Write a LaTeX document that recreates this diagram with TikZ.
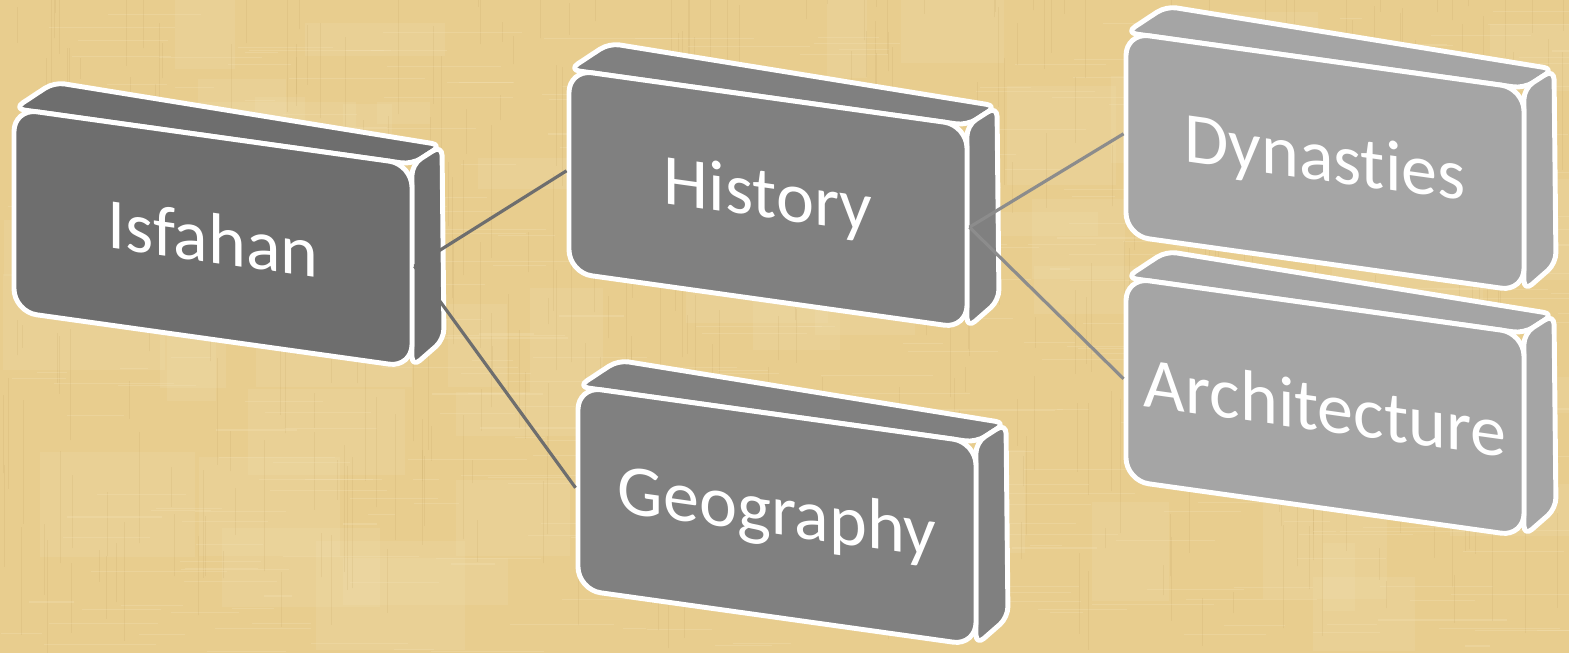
\documentclass[tikz,border=0pt]{standalone}
\usepackage{fontspec}
\setmainfont{Carlito}[Ligatures=NoCommon]
\usepackage{tikz}

\definecolor{paper}{RGB}{232,205,142}
\definecolor{paperlight}{RGB}{243,226,182}
\definecolor{paperdark}{RGB}{196,165,100}
\definecolor{boxdark}{RGB}{110,110,110}
\definecolor{boxmid}{RGB}{128,128,128}
\definecolor{boxlight}{RGB}{165,165,165}
\definecolor{linegray}{RGB}{140,140,140}

\begin{document}
\begin{tikzpicture}
  [brick/.style={rectangle,rounded corners=6.5pt,draw=white,line width=1.4pt,
     minimum width=3.98cm,minimum height=2.03cm,text=white,transform shape,
     font=\fontsize{20.5}{24}\selectfont},
   face/.style={draw=white,line width=1.4pt,rounded corners=3pt,line join=round},
   link/.style={line width=0.9pt}]
  \useasboundingbox (0,0) rectangle (15.69,6.53);
  \fill[paper] (0,0) rectangle (15.69,6.53);

  % papyrus texture
  \begin{scope}
    \clip (0,0) rectangle (15.69,6.53);
    \pgfmathsetseed{4}
    \foreach \i in {1,...,60}{
      \pgfmathsetmacro\xa{rnd*15.4}
      \pgfmathsetmacro\ya{rnd*6.3}
      \fill[paperlight,opacity=0.18] (\xa,\ya) rectangle ++(0.3+rnd*1.4,0.2+rnd*0.9);
    }
    \foreach \i in {1,...,400}{
      \pgfmathsetmacro\xa{rnd*15.69}
      \pgfmathsetmacro\ya{rnd*6.53}
      \draw[paperdark,opacity=0.18,line width=0.25pt] (\xa,\ya) -- ++(0,0.2+rnd*1.2);
      \draw[paperlight,opacity=0.3,line width=0.3pt] (\ya*2.4,\xa*0.41) -- ++(0.2+rnd*1.2,0);
    }
  \end{scope}

  % boxes
  \foreach \n/\x/\y/\col/\txt in {isf/2.13/4.15/boxdark/Isfahan,
      his/7.68/4.54/boxmid/History, geo/7.77/1.37/boxmid/Geography,
      dyn/13.25/4.91/boxlight/Dynasties, arc/13.25/2.46/boxlight/Architecture}{
    \begin{scope}[shift={(\x,\y)},yslant=-0.14]
      \filldraw[face,fill=\col] (-1.99,1.015) -- (1.99,1.015) -- (2.29,1.25) -- (-1.59,1.335) -- cycle;
      \filldraw[face,fill=\col] (1.99,1.015) -- (2.29,1.25) -- (2.31,-0.69) -- (1.99,-1.015) -- cycle;
      \node[brick,fill=\col] (\n) at (0,0) {\txt};
    \end{scope}
  }

  \draw[link,draw=boxdark] (isf.east) -- (his.west);
  \draw[link,draw=boxdark] (isf.east) -- (geo.west);
  \draw[link,draw=linegray] (his.east) -- (dyn.west);
  \draw[link,draw=linegray] (his.east) -- (arc.west);
\end{tikzpicture}
\end{document}
